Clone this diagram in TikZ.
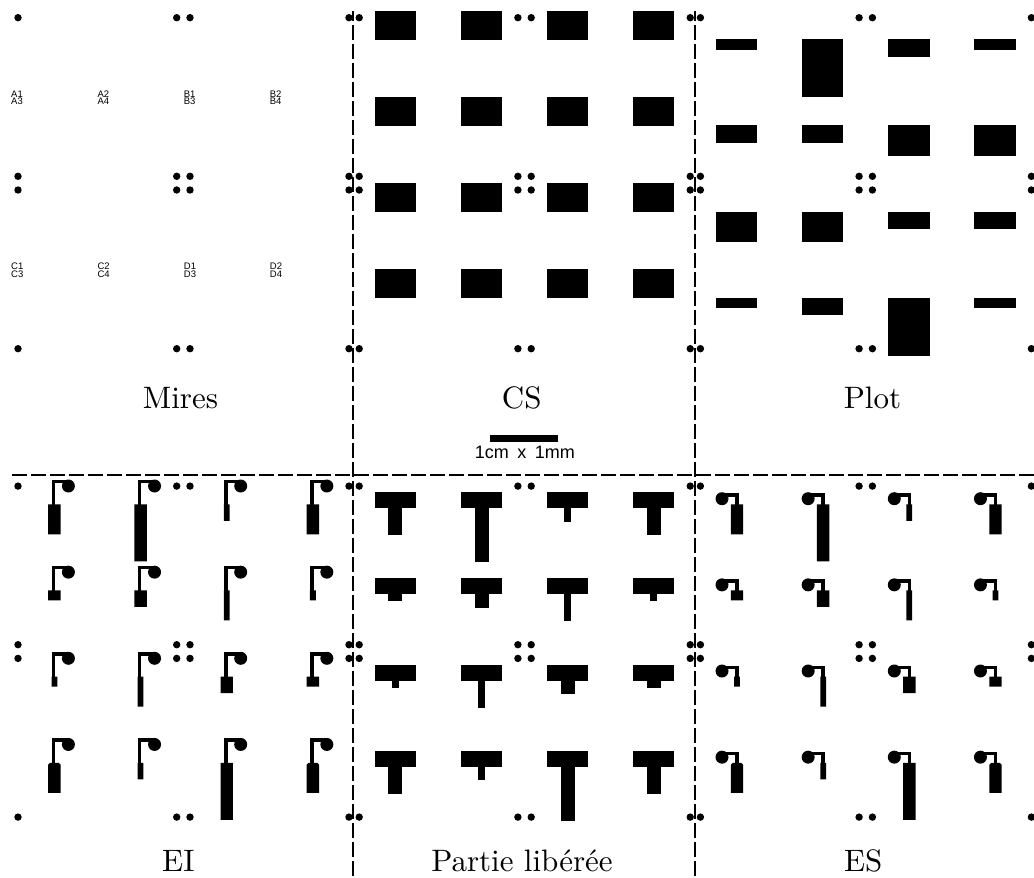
\documentclass[tikz,border=0pt]{standalone}
\usepackage{fontspec}
\newfontfamily\arialish{Liberation Sans}
\newfontfamily\titlefont{lmroman10-regular.otf}
\newcommand{\bigfont}{\titlefont\fontsize{31}{31}\selectfont}
\tikzset{
  dot/.style={fill=black,draw=none},
  cut/.style={line width=2pt,black,dash pattern=on 15pt off 4pt},
  title/.style={anchor=base,inner sep=0pt,font=\bigfont,text=black},
  tiny label/.style={anchor=base west,inner sep=0pt,font=\arialish\fontsize{9.5}{9.5}\selectfont,text=black},
  scale label/.style={anchor=center,inner sep=0pt,font=\arialish\fontsize{18}{18}\selectfont,text=black},
  wire/.style={line width=3.6pt,black,line join=miter,line cap=butt},
}
% pad and wire tables: column/row/wide(1) or narrow(0)/length index
\newcommand{\padtable}{0/0/1/2,1/0/1/3,2/0/0/1,3/0/1/2,
  0/1/1/0,1/1/1/1,2/1/0/2,3/1/0/0,
  0/2/0/0,1/2/0/2,2/2/1/1,3/2/1/0,
  0/3/1/2,1/3/0/1,2/3/1/3,3/3/1/2}
\newcommand{\pitch}{86.15}
\begin{document}
\begin{tikzpicture}[x=1pt,y=-1pt]
\useasboundingbox (0,0) rectangle (1034,878);
\fill[white] (0,0) rectangle (1034,878);
\begin{scope}
\clip (0,0) rectangle (1034,878);
% alignment dots
\foreach \px in {0,341.2,682.4}
 \foreach \py in {0,468.4}
  \foreach \dx in {18,176.7,190,349}
   \foreach \dy in {17.7,176.3,190,348.7}
    \fill[dot] (\px+\dx,\py+\dy) circle[radius=3.7];
% CS
\foreach \r in {0,1,2,3}
 \foreach \c in {0,1,2,3}
  \fill (374.7+\c*\pitch,11+\r*\pitch) rectangle +(41.3,28.7);
% Plot
\foreach \c/\r/\h in {0/0/10.7,1/0/58,2/0/17.3,3/0/10.7,
  0/1/17.3,1/1/17.3,2/1/30.7,3/1/30.7,
  0/2/30.7,1/2/30.7,2/2/17.3,3/2/17.3,
  0/3/10.7,1/3/17.3,2/3/58,3/3/10.7}
  \fill (716+\c*\pitch,39.3+\r*\pitch) rectangle +(41.3,\h);
% Partie liberee
\foreach \c/\r/\k/\n in \padtable {
  \pgfmathsetmacro{\sw}{\k==1 ? 14 : 7}
  \pgfmathsetmacro{\sl}{{7,13.5,27,54}[\n]}
  \pgfmathsetmacro{\hx}{374.7+\c*\pitch}
  \pgfmathsetmacro{\hy}{492.3+\r*\pitch}
  \fill (\hx,\hy) rectangle +(41.3,16);
  \fill (\hx+20.65-\sw/2,\hy+16-0.1) rectangle +(\sw,\sl+0.1);
}
% EI and ES
\foreach \c/\r/\k/\n in \padtable {
  \pgfmathsetmacro{\pw}{\k==1 ? 12.4 : 5.8}
  \pgfmathsetmacro{\ph}{{10,16.5,30,57}[\n]}
  \pgfmathsetmacro{\ci}{(\r==3 && \n==2) ? 2 : 0}
  % EI
  \pgfmathsetmacro{\lx}{53.4+\c*\pitch}
  \pgfmathsetmacro{\px}{54.4+\c*\pitch}
  \pgfmathsetmacro{\ly}{481.5+\r*\pitch}
  \pgfmathsetmacro{\top}{504.3+\r*\pitch}
  \fill (\lx+15,\ly+4.5) circle[radius=6.5];
  \draw[wire] (\lx+15,\ly) -- (\lx,\ly) -- (\lx,\top+1);
  \fill (\px-\pw/2,\top+\ci) -- (\px-\pw/2+\ci,\top) -- (\px+\pw/2-\ci,\top) -- (\px+\pw/2,\top+\ci)
     -- (\px+\pw/2,\top+\ph) -- (\px-\pw/2,\top+\ph) -- cycle;
  % ES
  \pgfmathsetmacro{\lx}{737+\c*\pitch}
  \pgfmathsetmacro{\ly}{495+\r*\pitch}
  \fill (\lx-15,\ly+3.7) circle[radius=6.5];
  \draw[wire] (\lx-15,\ly) -- (\lx,\ly) -- (\lx,\top+1);
  \fill (\lx-\pw/2,\top+\ci) -- (\lx-\pw/2+\ci,\top) -- (\lx+\pw/2-\ci,\top) -- (\lx+\pw/2,\top+\ci)
     -- (\lx+\pw/2,\top+\ph) -- (\lx-\pw/2,\top+\ph) -- cycle;
}
% scale bar
\fill (490,435) rectangle (558.3,442);
\end{scope}
% cut lines
\coordinate (v1a) at (353,6);
\coordinate (v1b) at (353,878);
\coordinate (v2a) at (695,6);
\coordinate (v2b) at (695,878);
\coordinate (ha) at (12,475);
\coordinate (hb) at (1034,475);
\begin{scope}
\clip (0,11) rectangle (1034,878);
\draw[cut] (v1a) -- (v1b);
\draw[cut] (v2a) -- (v2b);
\end{scope}
\draw[cut] (ha) -- (hb);
% small labels
\node[tiny label] (a1) at (11,97.3) {A1};
\node[tiny label] (a3) at (11,104.7) {A3};
\node[tiny label] (a2) at (97.3,97.3) {A2};
\node[tiny label] (a4) at (97.3,104.7) {A4};
\node[tiny label] (b1) at (183.7,97.3) {B1};
\node[tiny label] (b3) at (183.7,104.7) {B3};
\node[tiny label] (b2) at (269.7,97.3) {B2};
\node[tiny label] (b4) at (269.7,104.7) {B4};
\node[tiny label] (c1) at (11,269.6) {C1};
\node[tiny label] (c3) at (11,277) {C3};
\node[tiny label] (c2) at (97.3,269.6) {C2};
\node[tiny label] (c4) at (97.3,277) {C4};
\node[tiny label] (d1) at (183.7,269.6) {D1};
\node[tiny label] (d3) at (183.7,277) {D3};
\node[tiny label] (d2) at (269.7,269.6) {D2};
\node[tiny label] (d4) at (269.7,277) {D4};
% titles
\node[title] (mires) at (180.5,408.3) {Mires};
\node[title] (cs) at (521.7,408.3) {CS};
\node[title] (plot) at (872.5,408.3) {Plot};
\node[title] (ei) at (178.3,871) {EI};
\node[title] (partie) at (522,871) {Partie libérée};
\node[title] (es) at (863.3,871) {ES};
\node[scale label] (scale) at (524.8,452) {\spaceskip=8.5pt\relax 1cm x 1mm};
\end{tikzpicture}
\end{document}
